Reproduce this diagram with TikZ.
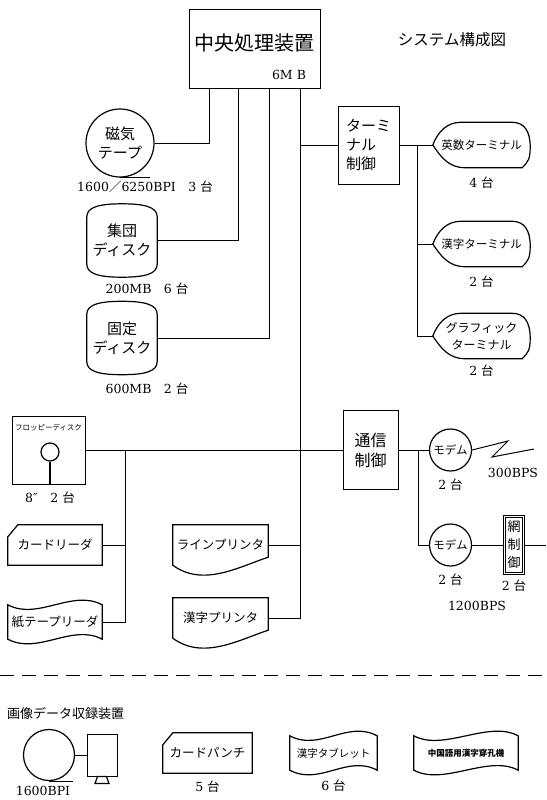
\documentclass[tikz,border=0pt]{standalone}
\usepackage{fontspec}
\setmainfont{DejaVu Serif}
\newfontfamily\jpfont{Noto Sans CJK JP}
\usetikzlibrary{positioning}

\newcommand\dai{{\jpfont 台}}
\newcommand\termshape[1]{%
  \draw[shp] (#1.west) .. controls +(5,-13) and +(-14,0) .. ([xshift=28pt]#1.north west)
    -- ([xshift=-18pt]#1.north east) .. controls +(12,0) and +(0,-16) .. ([yshift=-2pt]#1.east)
    .. controls +(0,12) and +(6,-6) .. ([xshift=-8pt]#1.south east)
    -- ([xshift=32pt]#1.south west) .. controls +(-16,0) and +(8,12) .. (#1.west) -- cycle;}
\newcommand\diskshape[1]{%
  \draw[shp] ([yshift=-13pt]#1.north west) .. controls +(0,-10) and +(-22,0) .. (#1.north)
    .. controls +(22,0) and +(0,-10) .. ([yshift=-13pt]#1.north east)
    -- ([yshift=13pt]#1.south east) .. controls +(0,10) and +(22,0) .. (#1.south)
    .. controls +(-22,0) and +(0,10) .. ([yshift=13pt]#1.south west) -- cycle;}
\newcommand\cardshape[1]{%
  \draw[shp] ([yshift=-12pt]#1.north west) -- ([xshift=10pt]#1.north west)
    -- (#1.north east) -- (#1.south east) -- (#1.south west) -- cycle;}
\newcommand\tapeshape[1]{%
  \draw[shp] (#1.north west) .. controls +(30,16) and +(-30,-16) .. (#1.north east)
    -- (#1.south east) .. controls +(-30,-16) and +(30,16) .. (#1.south west) -- cycle;}
\newcommand\docshape[1]{%
  \draw[shp] (#1.north west) -- (#1.north east) -- ([yshift=8pt]#1.south east)
    .. controls +(-30,10) and +(30,22) .. (#1.south west) -- cycle;}

\begin{document}
\begin{tikzpicture}[x=1pt, y=-1pt,
  box/.style={draw, line width=1pt, inner sep=0pt, align=center},
  hold/.style={inner sep=0pt, align=center},
  shp/.style={line width=1.2pt},
  wire/.style={line width=1pt},
  jl/.style={font=\jpfont\fontsize{15pt}{19pt}\selectfont},
  jm/.style={font=\jpfont\fontsize{12.5pt}{12.5pt}\selectfont},
  js/.style={font=\jpfont\fontsize{11.5pt}{16pt}\selectfont},
  lbl/.style={font=\fontsize{12.5pt}{14pt}\selectfont, inner sep=0pt}
]
\useasboundingbox (0,0) rectangle (546,800);

\node[box, minimum width=131pt, minimum height=78pt] (cpu) at (254.5,49) {};
\node[hold, font=\jpfont\fontsize{20pt}{20pt}\selectfont] (cpuname) at (254.5,43) {中央処理装置};
\node[lbl] (cpumem) at (289,75) {6M B};
\node[hold, font=\jpfont\fontsize{15.5pt}{15.5pt}\selectfont] (title) at (452,40) {システム構成図};

\node[circle, draw, shp, jl, align=center, inner sep=0pt, minimum size=68pt] (mt) at (120,143) {磁気\\テープ};
\draw[shp] (mt.south) -- ++(30,0);
\node[lbl] (mtl) at (145,187) {1600{\jpfont ／}6250BPI\quad 3 \dai};

\node[hold, jl, minimum width=70pt, minimum height=73pt] (dk1) at (122,240.5) {集団\\ディスク};
\diskshape{dk1}
\node[lbl] (dk1l) at (147,289) {200MB\quad 6 \dai};
\node[hold, jl, minimum width=70pt, minimum height=73pt] (dk2) at (122,338) {固定\\ディスク};
\diskshape{dk2}
\node[lbl] (dk2l) at (147,389) {600MB\quad 2 \dai};

\node[box, jl, align=left, minimum width=61pt, minimum height=78pt] (tc) at (368.5,145) {ターミ\\ナル\\制御};
\node[hold, js, minimum width=97pt, minimum height=45pt] (t1) at (481.5,145) {英数ターミナル};
\termshape{t1}
\node[lbl, below=9pt of t1] (t1l) {4 \dai};
\node[hold, js, minimum width=97pt, minimum height=45pt] (t2) at (481.5,244) {漢字ターミナル};
\termshape{t2}
\node[lbl, below=9pt of t2] (t2l) {2 \dai};
\node[hold, font=\jpfont\fontsize{12pt}{17pt}\selectfont, minimum width=97pt, minimum height=45pt] (t3) at (481.5,336) {グラフィック\\ターミナル};
\termshape{t3}
\node[lbl, below=6pt of t3] (t3l) {2 \dai};

\node[box, minimum width=73pt, minimum height=68pt] (fd) at (48.5,450) {};
\node[hold, font=\jpfont\fontsize{7.5pt}{8pt}\selectfont] (fdt) at (48.5,428) {フロッピーディスク};
\node[circle, draw, shp, inner sep=0pt, minimum size=18pt] (fdc) at (50,452) {};
\draw[shp] (fdc.south) -- (fdc.south |- fd.south);
\node[lbl] (fdl) at (50,498) {8″\quad 2 \dai};

\node[hold, jm, minimum width=94pt, minimum height=40pt] (cr) at (55,545) {カードリーダ};
\cardshape{cr}
\node[hold, jm, minimum width=94pt, minimum height=34pt] (pt) at (55,622) {紙テープリーダ};
\tapeshape{pt}

\node[hold, jm, minimum width=95pt, minimum height=40pt] (lp) at (220.5,545) {ラインプリンタ};
\docshape{lp}
\node[hold, jm, minimum width=95pt, minimum height=40pt] (kp) at (220.5,618) {漢字プリンタ};
\docshape{kp}

\node[box, font=\jpfont\fontsize{16pt}{20pt}\selectfont, minimum width=55pt, minimum height=79pt] (cc) at (370.5,450) {通信\\制御};
\node[circle, draw, shp, js, inner sep=0pt, minimum size=42pt] (m1) at (450.5,450) {モデム};
\node[lbl, below=7pt of m1] (m1l) {2 \dai};
\coordinate (z1) at (508,441);
\coordinate (z2) at (492,457);
\coordinate (z3) at (534,449);
\node[lbl] (bps1) at (513,473) {300BPS};
\node[circle, draw, shp, js, inner sep=0pt, minimum size=42pt] (m2) at (450.5,545) {モデム};
\node[lbl, below=7pt of m2] (m2l) {2 \dai};
\node[box, line width=0.8pt, font=\jpfont\fontsize{13pt}{18pt}\selectfont, minimum width=21pt, minimum height=59pt] (nc) at (514,545) {網\\制\\御};
\draw[line width=0.8pt] ([shift={(2.5pt,2.5pt)}]nc.south west) rectangle ([shift={(-2.5pt,-2.5pt)}]nc.north east);
\node[lbl, below=5pt of nc] (ncl) {2 \dai};
\node[lbl] (bps2) at (477,606) {1200BPS};
\coordinate (rend) at (546,545);

\draw[wire] (mt.east) -| ([xshift=21pt]cpu.south west);
\draw[wire] (dk1.east) -| ([xshift=50pt]cpu.south west);
\draw[wire] (dk2.east) -| ([xshift=81pt]cpu.south west);
\coordinate (bus) at ([xshift=112pt]cpu.south west);
\draw[wire] (bus) |- (kp.east);
\draw[wire] (tc.west) -- (tc.west -| bus);
\draw[wire] (lp.east) -- (lp.east -| bus);
\draw[wire] (fd.east) -- (cc.west);
\coordinate (lbus) at ([xshift=40pt]fd.east);
\draw[wire] (lbus) |- (pt.east);
\draw[wire] (cr.east) -- (cr.east -| lbus);
\coordinate (tbus) at ([xshift=18pt]tc.east);
\draw[wire] (tc.east) -- (t1.west);
\draw[wire] (tbus) |- (t3.west);
\draw[wire] (t2.west) -- (t2.west -| tbus);
\coordinate (cbus) at ([xshift=20pt]cc.east);
\draw[wire] (cc.east) -- (m1.west);
\draw[wire] (cbus) |- (m2.west);
\draw[wire] (m1.east) -- (z1) -- (z2) -- (z3);
\draw[wire] (m2.east) -- (nc.west);
\draw[wire] (nc.east) -- (rend);

\coordinate (dl) at (0,675);
\coordinate (dr) at (546,675);
\draw[wire, dash pattern=on 14pt off 8pt] (dl) -- (dr);

\node[hold, font=\jpfont\fontsize{13pt}{13pt}\selectfont, anchor=west] (imgt) at (7,713) {画像データ収録装置};
\node[circle, draw, shp, inner sep=0pt, minimum size=51pt] (ic) at (49,755) {};
\draw[shp] (ic.south) -- ++(24,0);
\node[box, minimum width=30pt, minimum height=42pt] (ib) at (102,755) {};
\draw[shp] ([xshift=-4.5pt]ib.south) -- ([xshift=4.5pt]ib.south) -- ++(2.5,7) -- ++(-14,0) -- cycle;
\draw[wire] (ic.east) -- (ib.west);
\node[lbl] (ibl) at (43,791) {1600BPI};

\node[hold, jm, minimum width=89pt, minimum height=40pt] (cp) at (207.5,753) {カードパンチ};
\cardshape{cp}
\node[lbl, below=8pt of cp] (cpl) {5 \dai};
\node[hold, font=\jpfont\fontsize{10.5pt}{10.5pt}\selectfont, minimum width=87pt, minimum height=34pt] (tb) at (333.5,753) {漢字タブレット};
\tapeshape{tb}
\node[lbl, below=10pt of tb] (tbl) {6 \dai};
\node[hold, font=\jpfont\bfseries\fontsize{8.5pt}{8.5pt}\selectfont, minimum width=104pt, minimum height=34pt] (ch) at (466,753) {中国語用漢字穿孔機};
\tapeshape{ch}
\end{tikzpicture}
\end{document}
